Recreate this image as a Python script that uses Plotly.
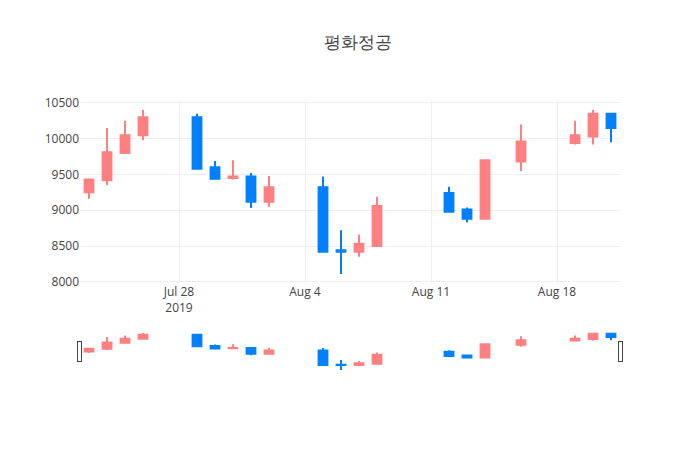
import plotly.graph_objects as go

# 평화정공 일봉 (2019-07-23 ~ 2019-08-21)
dates = [
    "2019-07-23", "2019-07-24", "2019-07-25", "2019-07-26",
    "2019-07-29", "2019-07-30", "2019-07-31", "2019-08-01", "2019-08-02",
    "2019-08-05", "2019-08-06", "2019-08-07", "2019-08-08",
    "2019-08-12", "2019-08-13", "2019-08-14", "2019-08-16",
    "2019-08-19", "2019-08-20", "2019-08-21",
]
open_prices = [9250, 9420, 9800, 10050, 10300, 9600, 9450, 9470, 9120,
               9320, 8440, 8420, 8500, 9240, 9010, 8880, 9680,
               9940, 10030, 10350]
high_prices = [9430, 10150, 10250, 10400, 10350, 9690, 9700, 9520, 9480,
               9470, 8720, 8660, 9190, 9330, 9040, 9700, 10200,
               10250, 10400, 10350]
low_prices = [9160, 9350, 9800, 9980, 9580, 9440, 9430, 9030, 9050,
              8420, 8110, 8350, 8500, 8980, 8830, 8880, 9550,
              9920, 9920, 9950]
close_prices = [9430, 9810, 10050, 10300, 9580, 9440, 9470, 9120, 9320,
                8420, 8420, 8530, 9060, 8980, 8880, 9700, 9960,
                10050, 10350, 10150]

fig = go.Figure()

fig.add_trace(go.Candlestick(
    x=dates,
    open=open_prices,
    high=high_prices,
    low=low_prices,
    close=close_prices,
    increasing=dict(line=dict(color="#FF8080"), fillcolor="#FF8080"),
    decreasing=dict(line=dict(color="#0080FF"), fillcolor="#0080FF"),
))

fig.update_layout(
    template="none",
    title=dict(text="평화정공", x=0.5, xanchor="center",
               yref="container", y=0.925, yanchor="middle"),
    yaxis=dict(tickformat="d"),
    margin=dict(l=72, r=88, t=93, b=87),
    width=700,
    height=450,
)

fig.write_html("out.html")
